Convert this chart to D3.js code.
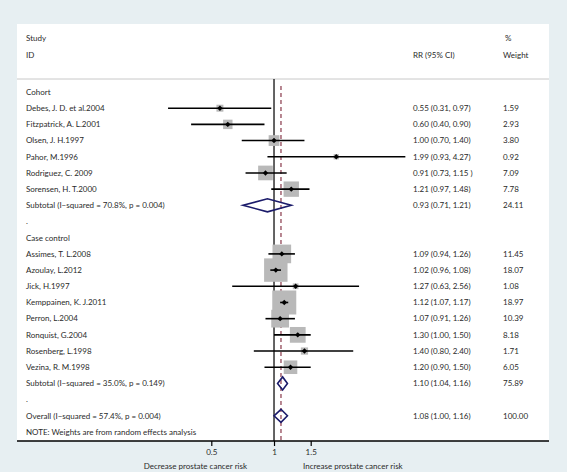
<!DOCTYPE html>
<html><head><meta charset="utf-8">
<script src="https://cdn.jsdelivr.net/npm/d3@7"></script>
<style>
html,body{margin:0;padding:0;background:#e7eff2;}
svg{display:block;}
text{font-family:Lato,"Open Sans",sans-serif;fill:#2a2a2a;}
</style></head>
<body>
<svg id="chart" width="567" height="472"></svg>
<script>
// ---- data ----
const cohortStudies = ["Debes, J. D. et al.2004","Fitzpatrick, A. L.2001","Olsen, J. H.1997","Pahor, M.1996","Rodriguez, C. 2009","Sorensen, H. T.2000"];
const cohortRR    = [0.55, 0.60, 1.00, 1.99, 0.91, 1.21];
const cohortLow   = [0.31, 0.40, 0.70, 0.93, 0.73, 0.97];
const cohortHigh  = [0.97, 0.90, 1.40, 4.27, 1.15, 1.48];
const cohortCI    = ["0.55 (0.31, 0.97)","0.60 (0.40, 0.90)","1.00 (0.70, 1.40)","1.99 (0.93, 4.27)","0.91 (0.73, 1.15 )","1.21 (0.97, 1.48)"];
const cohortWeight= ["1.59","2.93","3.80","0.92","7.09","7.78"];

const caseStudies = ["Assimes, T. L.2008","Azoulay, L.2012","Jick, H.1997","Kemppainen, K. J.2011","Perron, L.2004","Ronquist, G.2004","Rosenberg, L.1998","Vezina, R. M.1998"];
const caseRR      = [1.09, 1.02, 1.27, 1.12, 1.07, 1.30, 1.40, 1.20];
const caseLow     = [0.94, 0.96, 0.63, 1.07, 0.91, 1.00, 0.80, 0.90];
const caseHigh    = [1.26, 1.08, 2.56, 1.17, 1.26, 1.50, 2.40, 1.50];
const caseCI      = ["1.09 (0.94, 1.26)","1.02 (0.96, 1.08)","1.27 (0.63, 2.56)","1.12 (1.07, 1.17)","1.07 (0.91, 1.26)","1.30 (1.00, 1.50)","1.40 (0.80, 2.40)","1.20 (0.90, 1.50)"];
const caseWeight  = ["11.45","18.07","1.08","18.97","10.39","8.18","1.71","6.05"];

const subtotalLabels = ["Subtotal  (I\u2212squared = 70.8%, p = 0.004)","Subtotal  (I\u2212squared = 35.0%, p = 0.149)","Overall  (I\u2212squared = 57.4%, p = 0.004)"];
const subtotalRR     = [0.93, 1.10, 1.08];
const subtotalLow    = [0.71, 1.04, 1.00];
const subtotalHigh   = [1.21, 1.16, 1.16];
const subtotalCI     = ["0.93 (0.71, 1.21)","1.10 (1.04, 1.16)","1.08 (1.00, 1.16)"];
const subtotalWeight = ["24.11","75.89","100.00"];

const tickValues = [0.5, 1, 1.5];
const tickLabels = ["0.5","1","1.5"];
const axisTitles = ["Decrease prostate cancer risk","Increase prostate cancer risk"];
const noteText = "NOTE: Weights are from random effects analysis";

// ---- build rows ----
const rows = [];
rows.push({kind:"group", label:"Cohort"});
cohortStudies.forEach((s,i)=>rows.push({kind:"study", label:s, rr:cohortRR[i], lo:cohortLow[i], hi:cohortHigh[i], ci:cohortCI[i], w:cohortWeight[i]}));
rows.push({kind:"sub", label:subtotalLabels[0], rr:subtotalRR[0], lo:subtotalLow[0], hi:subtotalHigh[0], ci:subtotalCI[0], w:subtotalWeight[0]});
rows.push({kind:"group", label:"."});
rows.push({kind:"group", label:"Case control"});
caseStudies.forEach((s,i)=>rows.push({kind:"study", label:s, rr:caseRR[i], lo:caseLow[i], hi:caseHigh[i], ci:caseCI[i], w:caseWeight[i]}));
rows.push({kind:"sub", label:subtotalLabels[1], rr:subtotalRR[1], lo:subtotalLow[1], hi:subtotalHigh[1], ci:subtotalCI[1], w:subtotalWeight[1]});
rows.push({kind:"group", label:"."});
rows.push({kind:"sub", label:subtotalLabels[2], rr:subtotalRR[2], lo:subtotalLow[2], hi:subtotalHigh[2], ci:subtotalCI[2], w:subtotalWeight[2]});
rows.push({kind:"group", label:noteText});

// ---- layout ----
const boxL = 17, boxR = 549, boxT = 24, axisY = 441, sepY = 79;
const labelX = 26, ciX = 413, wX = 503;
const fs = 8;

const x = d3.scaleLog().domain([0.5, 1.5]).range([211.3, 310.7]);
const y = d3.scaleLinear().domain([0, rows.length-1]).range([92, 432]);
const boxSide = d3.scaleSqrt().domain([0, 18.97]).range([0, 24]);

const svg = d3.select("#chart");
svg.append("rect").attr("x",0).attr("y",0).attr("width",567).attr("height",472).attr("fill","#e7eff2");
svg.append("rect").attr("x",boxL).attr("y",boxT).attr("width",boxR-boxL).attr("height",axisY-boxT).attr("fill","#ffffff");

// header
svg.append("text").attr("x",labelX).attr("y",38).attr("dy","0.35em").attr("font-size",fs).text("Study");
svg.append("text").attr("x",labelX).attr("y",55).attr("dy","0.35em").attr("font-size",fs).text("ID");
svg.append("text").attr("x",ciX).attr("y",55).attr("dy","0.35em").attr("font-size",fs).text("RR (95% CI)");
svg.append("text").attr("x",wX+2).attr("y",38).attr("dy","0.35em").attr("font-size",fs).text("%");
svg.append("text").attr("x",wX).attr("y",55).attr("dy","0.35em").attr("font-size",fs).text("Weight");
svg.append("line").attr("x1",boxL).attr("x2",boxR).attr("y1",sepY).attr("y2",sepY).attr("stroke","#c8c8c8").attr("stroke-width",1);

// reference lines
svg.append("line").attr("x1",x(1)).attr("x2",x(1)).attr("y1",sepY).attr("y2",axisY).attr("stroke","#111").attr("stroke-width",1.3);
svg.append("line").attr("x1",x(subtotalRR[2])).attr("x2",x(subtotalRR[2])).attr("y1",86).attr("y2",axisY)
  .attr("stroke","#9a5464").attr("stroke-width",1.4).attr("stroke-dasharray","4,3");

// rows text
const g = svg.append("g");
rows.forEach((r,i)=>{
  const yy = y(i);
  g.append("text").attr("x",labelX).attr("y",yy).attr("dy","0.35em").attr("font-size",fs).text(r.label);
  if (r.ci) {
    g.append("text").attr("x",ciX).attr("y",yy).attr("dy","0.35em").attr("font-size",fs).text(r.ci);
    g.append("text").attr("x",wX).attr("y",yy).attr("dy","0.35em").attr("font-size",fs).text(r.w);
  }
});

// study marks
rows.forEach((r,i)=>{
  const yy = y(i);
  if (r.kind === "study") {
    const s = boxSide(+r.w);
    g.append("rect").attr("x",x(r.rr)-s/2).attr("y",yy-s/2).attr("width",s).attr("height",s).attr("fill","#b9b9b9");
    g.append("line").attr("x1",x(r.lo)).attr("x2",x(r.hi)).attr("y1",yy).attr("y2",yy).attr("stroke","#000").attr("stroke-width",1.6);
    const cx = x(r.rr), d = 2.7;
    g.append("path").attr("d",`M${cx-d},${yy}L${cx},${yy-d}L${cx+d},${yy}L${cx},${yy+d}Z`).attr("fill","#000");
  } else if (r.kind === "sub") {
    const h = 6.5;
    const pts = [[x(r.lo),yy],[x(r.rr),yy-h],[x(r.hi),yy],[x(r.rr),yy+h]];
    g.append("path").attr("d","M"+pts.map(p=>p.join(",")).join("L")+"Z")
      .attr("fill","none").attr("stroke","#1b1b6a").attr("stroke-width",1.6);
  }
});

// axis
svg.append("line").attr("x1",boxL).attr("x2",boxR).attr("y1",axisY).attr("y2",axisY).attr("stroke","#000").attr("stroke-width",1.4);
const axis = d3.axisBottom(x).tickValues(tickValues).tickFormat((d,i)=>tickLabels[i]).tickSize(5).tickPadding(3);
const ag = svg.append("g").attr("transform",`translate(0,${axisY})`).call(axis);
ag.select(".domain").remove();
ag.selectAll(".tick line").attr("stroke","#000").attr("stroke-width",1.2);
ag.selectAll(".tick text").attr("font-size",fs).attr("font-family","Lato, sans-serif").attr("fill","#2a2a2a");

svg.append("text").attr("x",x(1)-27).attr("y",466).attr("dy","0.35em").attr("text-anchor","end").attr("font-size",fs).text(axisTitles[0]);
svg.append("text").attr("x",x(1)+29).attr("y",466).attr("dy","0.35em").attr("text-anchor","start").attr("font-size",fs).text(axisTitles[1]);
</script>
</body></html>
